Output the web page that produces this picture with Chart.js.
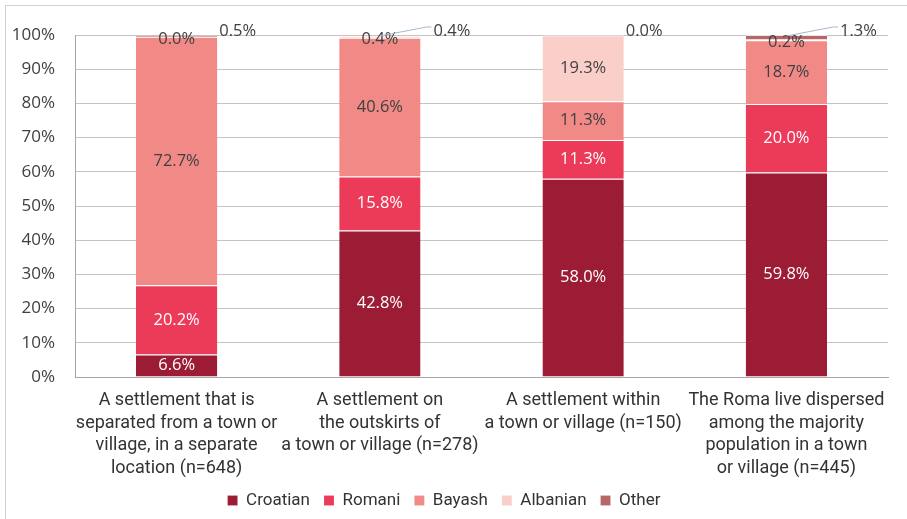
<!doctype html>
<html lang="en">
  <head>
    <meta charset="utf-8">
    <style>
      * { margin: 0; padding: 0; }
      body { background: white; }
      .chartBox { width: 907px; height: 519px; position: relative; }
    </style>
  </head>
  <body>
    <div class="chartBox">
      <canvas id="myChart"></canvas>
    </div>

    <script src="https://cdn.jsdelivr.net/npm/chart.js/dist/chart.umd.min.js"></script>
    <script>
    // data
    const categories = [
      ['A settlement that is', 'separated from a town or', 'village, in a separate', 'location (n=648)'],
      ['A settlement on', 'the outskirts of', 'a town or village (n=278)'],
      ['A settlement within', 'a town or village (n=150)'],
      ['The Roma live dispersed', 'among the majority', 'population in a town', 'or village (n=445)']
    ];
    const croatian = [6.6, 42.8, 58.0, 59.8];
    const romani   = [20.2, 15.8, 11.3, 20.0];
    const bayash   = [72.7, 40.6, 11.3, 18.7];
    const albanian = [0.0, 0.4, 19.3, 0.2];
    const other    = [0.5, 0.4, 0.0, 1.3];
    const yTicks = [0, 10, 20, 30, 40, 50, 60, 70, 80, 90, 100];

    const textFont = '"Open Sans", "DejaVu Sans", sans-serif';
    const narrowFont = 'Roboto, sans-serif';

    const series = [
      { label: 'Croatian', data: croatian, color: '#9c1c35', text: '#ffffff' },
      { label: 'Romani',   data: romani,   color: '#ec3a59', text: '#ffffff' },
      { label: 'Bayash',   data: bayash,   color: '#f18a87', text: '#404040' },
      { label: 'Albanian', data: albanian, color: '#facfc9', text: '#404040' },
      { label: 'Other',    data: other,    color: '#b76566', text: '#404040' }
    ];

    const data = {
      labels: categories,
      datasets: series.map(s => ({
        label: s.label,
        data: s.data,
        backgroundColor: s.color,
        borderColor: 'rgba(255,255,255,0.6)',
        borderWidth: { top: 1, left: 0, right: 0, bottom: 0 },
        borderSkipped: false,
        barPercentage: 0.4,
        categoryPercentage: 1.0
      }))
    };

    // frame around the whole chart
    const frame = {
      id: 'frame',
      beforeDraw(chart) {
        const { ctx, width, height } = chart;
        ctx.save();
        ctx.strokeStyle = '#d0d0d0';
        ctx.lineWidth = 1;
        ctx.strokeRect(5.5, 5.5, width + 10, height + 10);
        ctx.restore();
      }
    };

    // value labels + callouts for the small "Other" slices
    const valueLabels = {
      id: 'valueLabels',
      afterDatasetsDraw(chart) {
        const { ctx, chartArea: { top } } = chart;
        ctx.save();
        ctx.font = '16.5px ' + textFont;
        ctx.textAlign = 'center';
        ctx.textBaseline = 'middle';
        series.forEach((s, di) => {
          const meta = chart.getDatasetMeta(di);
          meta.data.forEach((bar, i) => {
            const v = s.data[i];
            const txt = v.toFixed(1) + '%';
            if (s.label === 'Other') {
              const leader = (i === 1 || i === 3);
              const lx = bar.x + bar.width / 2 + (leader ? 13 : 2);
              const ly = top - 4;
              if (leader) {
                ctx.strokeStyle = '#a9b8c8';
                ctx.lineWidth = 1;
                ctx.beginPath();
                ctx.moveTo(bar.x, bar.y + 1);
                ctx.lineTo(lx - 7, ly - 4);
                ctx.lineTo(lx - 2, ly - 4);
                ctx.stroke();
              }
              ctx.fillStyle = '#404040';
              ctx.textAlign = 'left';
              ctx.fillText(txt, lx, ly);
              ctx.textAlign = 'center';
              return;
            }
            ctx.fillStyle = s.text;
            if (v < 1) {
              ctx.fillText(txt, bar.x, bar.y + 3);
            } else {
              ctx.fillText(txt, bar.x, (bar.y + bar.base) / 2);
            }
          });
        });
        ctx.restore();
      }
    };

    const config = {
      type: 'bar',
      data,
      options: {
        responsive: true,
        maintainAspectRatio: false,
        animation: false,
        layout: { padding: { left: 0, right: 19, top: 35, bottom: 0 } },
        scales: {
          x: {
            stacked: true,
            grid: { display: false, drawTicks: false },
            border: { display: true, color: '#a6a6a6' },
            ticks: {
              color: '#333333',
              font: { family: narrowFont, size: 18, lineHeight: 1.26 },
              padding: 12,
              maxRotation: 0,
              autoSkip: false
            },
            afterFit(scale) { scale.height = 101; }
          },
          y: {
            stacked: true,
            min: 0,
            max: 100,
            grid: { color: '#c4c4c4', drawTicks: false },
            border: { display: true, color: '#a6a6a6' },
            afterBuildTicks(scale) { scale.ticks = yTicks.map(v => ({ value: v })); },
            ticks: {
              color: '#404040',
              font: { family: textFont, size: 17 },
              padding: 20,
              callback: v => v + '%'
            },
            afterFit(scale) { scale.width = 75; }
          }
        },
        plugins: {
          legend: {
            position: 'bottom',
            labels: {
              color: '#333333',
              font: { family: narrowFont, size: 17 },
              boxWidth: 10,
              boxHeight: 10,
              padding: 14
            }
          },
          tooltip: { enabled: false }
        }
      },
      plugins: [frame, valueLabels]
    };

    const myChart = new Chart(document.getElementById('myChart'), config);
    </script>
  </body>
</html>
